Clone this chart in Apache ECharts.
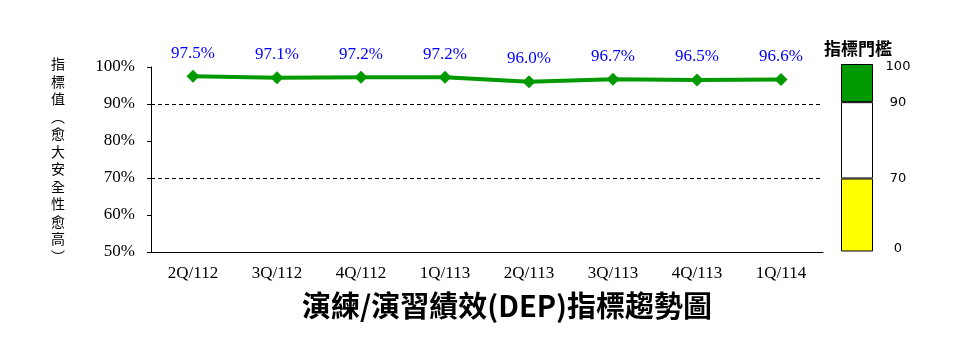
<!DOCTYPE html>
<html>
<head>
<meta charset="utf-8">
<script src="https://cdn.jsdelivr.net/npm/echarts@6/dist/echarts.min.js"></script>
<style>html,body{margin:0;padding:0;background:#fff}#c{width:960px;height:360px}</style>
</head>
<body>
<div id="c"></div>
<script>
var categories = ['2Q/112','3Q/112','4Q/112','1Q/113','2Q/113','3Q/113','4Q/113','1Q/114'];
var values = [97.5, 97.1, 97.2, 97.2, 96.0, 96.7, 96.5, 96.6];
var guideLines = [90, 70];
var yTicks = [50, 60, 70, 80, 90, 100];
var thresholdBandTops = [70, 90, 100];
var thresholdTickValues = [0, 70, 90, 100];
var thresholdTickLabels = ['0', '70', '90', '100'];
var thresholdColors = ['#FFFF00', '#FFFFFF', '#009900'];
var titleText = '演練/演習績效(DEP)指標趨勢圖';
var yName = '指標值︵愈大安全性愈高︶';
var legendTitle = '指標門檻';

var chart = echarts.init(document.getElementById('c'), null, {renderer: 'canvas'});
var serif = '"Liberation Serif", "Times New Roman", serif';
var cjk = '"Noto Sans CJK TC", sans-serif';
var legendMin = 51;

var bandSeries = thresholdBandTops.map(function (top, i) {
  var prev = i === 0 ? 0 : thresholdBandTops[i - 1];
  return {
    type: 'bar', xAxisIndex: 1, yAxisIndex: 1, stack: 'th',
    barWidth: '100%', silent: true,
    itemStyle: {color: thresholdColors[i], borderColor: '#000', borderWidth: 1},
    data: [top - prev]
  };
});
var legendLabelPos = thresholdTickValues.map(function (v) { return Math.max(v, legendMin); });

chart.setOption({
  animation: false,
  title: {
    text: titleText, left: 502, top: 286, textAlign: 'center',
    textStyle: {fontFamily: cjk, fontSize: 29, fontWeight: 'bold', color: '#000'}
  },
  graphic: [
    {type: 'text', x: 58, y: 55, style: {text: yName.split('').join('\n'),
      align: 'center', verticalAlign: 'top', font: '14px "Noto Sans CJK TC", sans-serif', lineHeight: 17.5, fill: '#000'}},
    {type: 'text', x: 858, y: 49, style: {text: legendTitle, align: 'center', verticalAlign: 'middle',
      font: 'bold 17px "Noto Sans CJK TC", sans-serif', fill: '#000'}}
  ],
  grid: [
    {left: 151, top: 67, width: 672, height: 185},
    {left: 841, top: 64, width: 32, height: 187}
  ],
  xAxis: [
    {type: 'category', gridIndex: 0, data: categories,
      axisLine: {lineStyle: {color: '#000', width: 1}},
      axisTick: {inside: true, length: 4, lineStyle: {color: '#000'}},
      axisLabel: {color: '#000', fontFamily: serif, fontSize: 17, margin: 13}},
    {type: 'category', gridIndex: 1, data: [''], show: false}
  ],
  yAxis: [
    {type: 'value', gridIndex: 0, min: yTicks[0], max: yTicks[yTicks.length - 1], interval: 10,
      axisLine: {show: true, lineStyle: {color: '#000', width: 1}},
      axisTick: {show: true, inside: false, length: 4, lineStyle: {color: '#000'}},
      splitLine: {show: false},
      axisLabel: {color: '#000', fontFamily: serif, fontSize: 17, margin: 16, formatter: '{value}%'}},
    {type: 'value', gridIndex: 1, position: 'right', min: legendMin, max: 100,
      axisLine: {show: false}, axisTick: {show: false}, splitLine: {show: false},
      axisLabel: {show: true, customValues: legendLabelPos, color: '#000',
        fontFamily: '"DejaVu Sans", Verdana, sans-serif', fontSize: 13, margin: 25, align: 'center',
        rich: {
          t: {fontFamily: '"DejaVu Sans", sans-serif', fontSize: 13, color: '#000', padding: [6, 0, 0, 0]},
          m: {fontFamily: '"DejaVu Sans", sans-serif', fontSize: 13, color: '#000'},
          b: {fontFamily: '"DejaVu Sans", sans-serif', fontSize: 13, color: '#000', padding: [0, 0, 4, 0]}
        },
        formatter: function (v) {
          var i = legendLabelPos.indexOf(v);
          if (i < 0) return '';
          var k = i === 0 ? 'b' : (i === legendLabelPos.length - 1 ? 't' : 'm');
          return '{' + k + '|' + thresholdTickLabels[i] + '}';
        }}}
  ],
  series: [{
    type: 'line', xAxisIndex: 0, yAxisIndex: 0, data: values,
    symbol: 'diamond', symbolSize: 13,
    lineStyle: {color: '#009900', width: 4},
    itemStyle: {color: '#009900'},
    label: {show: true, position: 'top', distance: 8, color: '#0000FF',
      fontFamily: serif, fontSize: 17,
      formatter: function (p) { return p.value.toFixed(1) + '%'; }},
    markLine: {silent: true, symbol: 'none', label: {show: false},
      lineStyle: {color: '#000', type: [4, 3], width: 1},
      data: guideLines.map(function (v) { return {yAxis: v}; })},
    z: 3
  }].concat(bandSeries)
});
</script>
</body>
</html>
